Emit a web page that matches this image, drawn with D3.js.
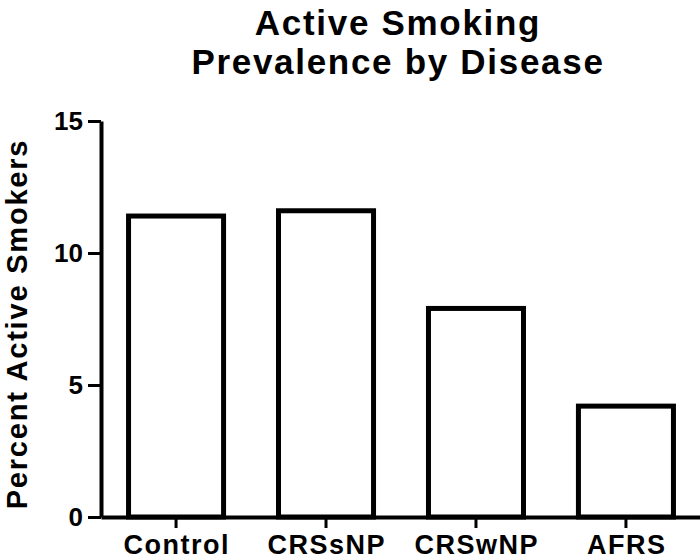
<!DOCTYPE html>
<html><head><meta charset="utf-8">
<script src="https://cdn.jsdelivr.net/npm/d3@7"></script>
<style>body{margin:0;background:#fff}svg{display:block}</style>
</head><body>
<script>
const categories = ["Control", "CRSsNP", "CRSwNP", "AFRS"];
const values = [11.4, 11.6, 7.9, 4.2];
const yTicks = [0, 5, 10, 15];
const titleLines = ["Active Smoking", "Prevalence by Disease"];
const yTitle = "Percent Active Smokers";

const W = 700, H = 560;
const svg = d3.select("body").append("svg").attr("width", W).attr("height", H);
const font = "Liberation Sans, Arial, sans-serif";

const x = d3.scaleBand().domain(categories).range([101, 701]).paddingInner(0.333).paddingOuter(0.167);
const y = d3.scaleLinear().domain([0, 15]).range([517, 121]);

// bars
svg.selectAll("rect.bar").data(values).enter().append("rect")
  .attr("class", "bar")
  .attr("x", (d, i) => x(categories[i]) + 2.5)
  .attr("width", x.bandwidth() - 5)
  .attr("y", d => y(d))
  .attr("height", d => y(0) - y(d))
  .attr("fill", "#fff").attr("stroke", "#000").attr("stroke-width", 5);

// y axis
const yAxis = svg.append("g").attr("transform", "translate(101,0)")
  .call(d3.axisLeft(y).tickValues(yTicks).tickSize(13).tickPadding(5).tickSizeOuter(0));
yAxis.select(".domain").attr("stroke-width", 4);
yAxis.selectAll(".tick line").attr("stroke-width", 3);
yAxis.selectAll(".tick text").attr("font-family", font).attr("font-size", 26).attr("font-weight", "bold").attr("fill", "#000");

// x axis
const xAxis = svg.append("g").attr("transform", "translate(0,517)")
  .call(d3.axisBottom(x).tickSize(11).tickPadding(7).tickSizeOuter(0));
xAxis.select(".domain").attr("stroke-width", 4);
xAxis.selectAll(".tick line").attr("stroke-width", 3);
xAxis.selectAll(".tick text").attr("font-family", font).attr("font-size", 27).attr("font-weight", "bold")
  .attr("fill", "#000").attr("letter-spacing", 1.5).attr("dx", 0.75);

// title
svg.append("text").attr("text-anchor", "middle")
  .attr("font-family", font).attr("font-size", 35).attr("font-weight", "bold").attr("letter-spacing", 1.7)
  .selectAll("tspan").data(titleLines).enter().append("tspan")
  .attr("x", 398).attr("y", (d, i) => 35 + i * 39).text(d => d);

// y title
svg.append("text").attr("transform", "translate(27,324) rotate(-90)")
  .attr("text-anchor", "middle").attr("font-family", font).attr("font-size", 29).attr("font-weight", "bold")
  .attr("letter-spacing", 1.8).attr("fill", "#000")
  .text(yTitle);
</script>
</body></html>
